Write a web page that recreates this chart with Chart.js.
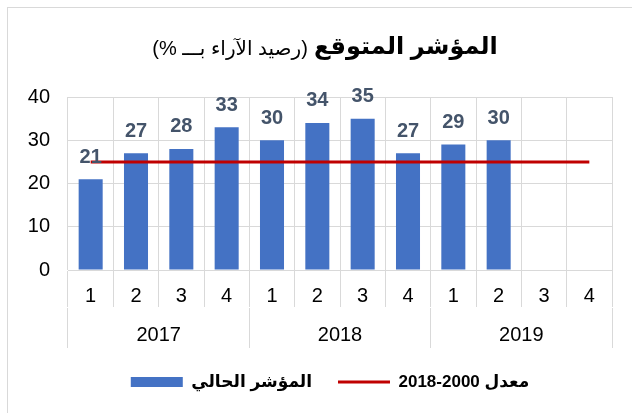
<!DOCTYPE html>
<html>
<head>
<meta charset="utf-8">
<script src="https://cdn.jsdelivr.net/npm/chart.js@4/dist/chart.umd.min.js"></script>
<style>
  body { margin: 0; background: #fff; }
  canvas { display: block; }
</style>
</head>
<body>
<canvas id="chart" width="632" height="413"></canvas>
<script>
// Data
const quarters = ['1', '2', '3', '4', '1', '2', '3', '4', '1', '2', '3', '4'];
const years = ['2017', '2018', '2019'];
const currentIndex = [21, 27, 28, 33, 30, 34, 35, 27, 29, 30, null, null];
const longRunAverage = [25, 25, 25, 25, 25, 25, 25, 25, 25, 25, 25, 25];

const titleBold = 'المؤشر المتوقع';
const titleRegular = '(رصيد الآراء بـــ %)';
const barLabel = 'المؤشر الحالي';
const lineLabel = 'معدل 2000-2018';

const fontFamily = '"Liberation Sans", Arial, "DejaVu Sans", sans-serif';

// White background and the light outer frame
const framePlugin = {
    id: 'frame',
    beforeDraw(chart) {
        const ctx = chart.ctx;
        ctx.save();
        ctx.fillStyle = '#fff';
        ctx.fillRect(0, 0, chart.width, chart.height);
        ctx.strokeStyle = '#D9D9D9';
        ctx.lineWidth = 1;
        ctx.strokeRect(7.5, 7.5, chart.width + 20, chart.height + 20);
        ctx.restore();
    },
    // nudge the legend so it sits a bit right of centre, like the original
    afterLayout(chart) {
        if (chart.legend) chart.legend.left += 20;
    }
};

// Title with a bold part and a regular part on one line
const titlePlugin = {
    id: 'mixedTitle',
    afterDraw(chart) {
        const ctx = chart.ctx;
        ctx.save();
        ctx.direction = 'rtl';
        ctx.textBaseline = 'middle';
        ctx.textAlign = 'left';
        ctx.fillStyle = '#000';
        ctx.font = 'bold 24px ' + fontFamily;
        const w1 = ctx.measureText(titleBold).width;
        ctx.font = '20px ' + fontFamily;
        const w2 = ctx.measureText(titleRegular).width;
        const gap = 6;
        const x0 = 325 - (w1 + gap + w2) / 2;
        ctx.fillText(titleRegular, x0, 49);
        ctx.font = 'bold 24px ' + fontFamily;
        ctx.fillText(titleBold, x0 + w2 + gap, 47);
        ctx.restore();
    }
};

// Value labels above the bars
const valueLabels = {
    id: 'valueLabels',
    afterDatasetsDraw(chart) {
        const ctx = chart.ctx;
        const meta = chart.getDatasetMeta(0);
        ctx.save();
        ctx.font = 'bold 20px ' + fontFamily;
        ctx.fillStyle = '#44546A';
        ctx.textAlign = 'center';
        ctx.textBaseline = 'middle';
        meta.data.forEach((bar, i) => {
            const v = currentIndex[i];
            if (v === null) return;
            ctx.fillText(String(v), bar.x, bar.y - 22);
        });
        ctx.restore();
    }
};

new Chart(document.getElementById('chart'), {
    type: 'bar',
    data: {
        labels: quarters,
        datasets: [
            {
                label: barLabel,
                data: currentIndex,
                backgroundColor: '#4472C4',
                barPercentage: 0.53,
                categoryPercentage: 1,
                pointStyle: 'rect',
                order: 2
            },
            {
                type: 'line',
                label: lineLabel,
                data: longRunAverage,
                borderColor: '#C00000',
                backgroundColor: '#C00000',
                borderWidth: 3,
                pointRadius: 0,
                pointStyle: 'line',
                order: 1
            }
        ]
    },
    options: {
        responsive: false,
        animation: false,
        devicePixelRatio: 1,
        layout: {
            padding: { top: 97, left: 28, right: 20, bottom: 12.5 }
        },
        plugins: {
            title: { display: false },
            tooltip: { enabled: false },
            legend: {
                position: 'bottom',
                textDirection: 'rtl',
                labels: {
                    usePointStyle: true,
                    pointStyleWidth: 52,
                    boxHeight: 10,
                    padding: 26,
                    color: '#000',
                    font: { family: fontFamily, size: 17, weight: 'bold' },
                    sort: (a, b) => a.datasetIndex - b.datasetIndex
                }
            }
        },
        scales: {
            x: {
                type: 'category',
                position: 'bottom',
                afterFit(scale) { scale.height = 38; },
                grid: {
                    offset: true,
                    color: '#D9D9D9',
                    tickLength: 37,
                    drawOnChartArea: true
                },
                border: { color: '#D9D9D9' },
                ticks: {
                    color: '#000',
                    padding: -23,
                    maxRotation: 0,
                    autoSkip: false,
                    font: { family: fontFamily, size: 20 }
                }
            },
            x2: {
                type: 'category',
                position: 'bottom',
                labels: years,
                afterFit(scale) { scale.height = 39.5; },
                grid: {
                    offset: true,
                    color: '#D9D9D9',
                    tickLength: 40,
                    drawOnChartArea: false
                },
                border: { display: false },
                ticks: {
                    color: '#000',
                    padding: -24.5,
                    maxRotation: 0,
                    autoSkip: false,
                    font: { family: fontFamily, size: 20 }
                }
            },
            y: {
                min: 0,
                max: 40,
                afterFit(scale) { scale.width = 40; },
                grid: { color: '#D9D9D9', drawTicks: false },
                border: { display: false },
                ticks: {
                    stepSize: 10,
                    padding: 18,
                    color: '#000',
                    font: { family: fontFamily, size: 20 }
                }
            }
        }
    },
    plugins: [framePlugin, titlePlugin, valueLabels]
});
</script>
</body>
</html>
